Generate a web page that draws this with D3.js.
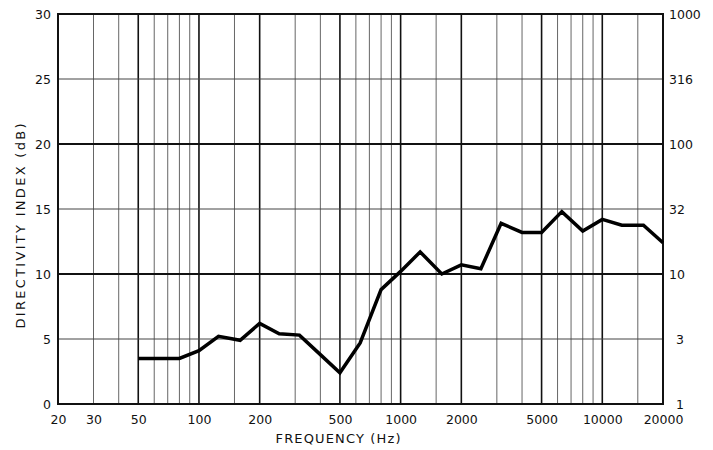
<!DOCTYPE html>
<html>
<head>
<meta charset="utf-8">
<script src="https://cdn.jsdelivr.net/npm/d3@7"></script>
<style>
  body { margin: 0; background: #fff; }
  svg { display: block; }
  text { font-family: "DejaVu Sans", sans-serif; fill: #111; }
</style>
</head>
<body>
<div id="chart"></div>
<script>
// third-octave measurement points, directivity index in dB
const freqs = [50, 63, 80, 100, 125, 160, 200, 250, 315, 400, 500, 630, 800, 1000,
  1250, 1600, 2000, 2500, 3150, 4000, 5000, 6300, 8000, 10000, 12500, 16000, 20000];
const dirIndex = [3.5, 3.5, 3.5, 4.1, 5.2, 4.9, 6.2, 5.4, 5.3, 3.8, 2.4, 4.7, 8.8, 10.2,
  11.7, 10.0, 10.7, 10.4, 13.9, 13.2, 13.2, 14.8, 13.3, 14.2, 13.75, 13.75, 12.4];

const xTicks = [20, 30, 50, 100, 200, 500, 1000, 2000, 5000, 10000, 20000];
const majorGrid = [50, 100, 200, 500, 1000, 2000, 5000, 10000];
const minorGrid = [30, 40, 60, 70, 80, 90, 150, 300, 400, 600, 700, 800, 900,
  1500, 3000, 4000, 6000, 7000, 8000, 9000, 15000];
const yTicks = [0, 5, 10, 15, 20, 25, 30];
const yMajor = [10, 20];
const yMinor = [5, 15, 25];
const rightLabels = ["1", "3", "10", "32", "100", "316", "1000"];

const W = 713, H = 450;
const m = { left: 58, right: 50, top: 14, bottom: 46 };

const svg = d3.select("#chart").append("svg")
  .attr("width", W).attr("height", H);

const x = d3.scaleLog().domain([20, 20000]).range([m.left, W - m.right]);
const y = d3.scaleLinear().domain([0, 30]).range([H - m.bottom, m.top]);

const grid = svg.append("g");

grid.selectAll(".vmin").data(minorGrid).enter().append("line")
  .attr("x1", d => x(d)).attr("x2", d => x(d))
  .attr("y1", y(0)).attr("y2", y(30))
  .attr("stroke", "#666").attr("stroke-width", 1);

grid.selectAll(".vmaj").data(majorGrid).enter().append("line")
  .attr("x1", d => x(d)).attr("x2", d => x(d))
  .attr("y1", y(0)).attr("y2", y(30))
  .attr("stroke", "#111").attr("stroke-width", 1.6);

grid.selectAll(".hmin").data(yMinor).enter().append("line")
  .attr("x1", x(20)).attr("x2", x(20000))
  .attr("y1", d => y(d)).attr("y2", d => y(d))
  .attr("stroke", "#444").attr("stroke-width", 1);

grid.selectAll(".hmaj").data(yMajor).enter().append("line")
  .attr("x1", x(20)).attr("x2", x(20000))
  .attr("y1", d => y(d)).attr("y2", d => y(d))
  .attr("stroke", "#111").attr("stroke-width", 1.8);

// frame
svg.append("rect")
  .attr("x", x(20)).attr("y", y(30))
  .attr("width", x(20000) - x(20)).attr("height", y(0) - y(30))
  .attr("fill", "none").attr("stroke", "#111").attr("stroke-width", 2);

// axes, labels only
const xAxis = svg.append("g")
  .attr("transform", `translate(0,${y(0)})`)
  .call(d3.axisBottom(x).tickValues(xTicks).tickFormat(d3.format("d"))
    .tickSize(0).tickPadding(11));

const yAxis = svg.append("g")
  .attr("transform", `translate(${x(20)},0)`)
  .call(d3.axisLeft(y).tickValues(yTicks).tickFormat(d3.format("d"))
    .tickSize(0).tickPadding(7));

const yAxisR = svg.append("g")
  .attr("transform", `translate(${x(20000)},0)`)
  .call(d3.axisRight(y).tickValues(yTicks).tickFormat((d, i) => rightLabels[i])
    .tickSize(0).tickPadding(6));

[xAxis, yAxis, yAxisR].forEach(g => {
  g.select(".domain").remove();
  g.selectAll("text")
    .style("font-family", "'DejaVu Sans', sans-serif")
    .style("font-size", "12.5px")
    .attr("fill", "#111");
});
yAxisR.selectAll("text").attr("dx", (d, i) => rightLabels[i].length === 1 ? 7 : 0);

svg.append("text")
  .attr("x", 338).attr("y", 443)
  .attr("text-anchor", "middle")
  .attr("textLength", 125).attr("lengthAdjust", "spacing")
  .style("font-size", "13px")
  .text("FREQUENCY (Hz)");

svg.append("text")
  .attr("transform", `translate(25,${(y(0) + y(30)) / 2 + 17}) rotate(-90)`)
  .attr("text-anchor", "middle")
  .attr("textLength", 205).attr("lengthAdjust", "spacing")
  .style("font-size", "13px")
  .text("DIRECTIVITY INDEX (dB)");

// response curve
const line = d3.line()
  .x((d, i) => x(freqs[i]))
  .y(d => y(d));

svg.append("path")
  .datum(dirIndex)
  .attr("d", line)
  .attr("fill", "none")
  .attr("stroke", "#000")
  .attr("stroke-width", 3.5)
  .attr("stroke-linejoin", "miter");
</script>
</body>
</html>
